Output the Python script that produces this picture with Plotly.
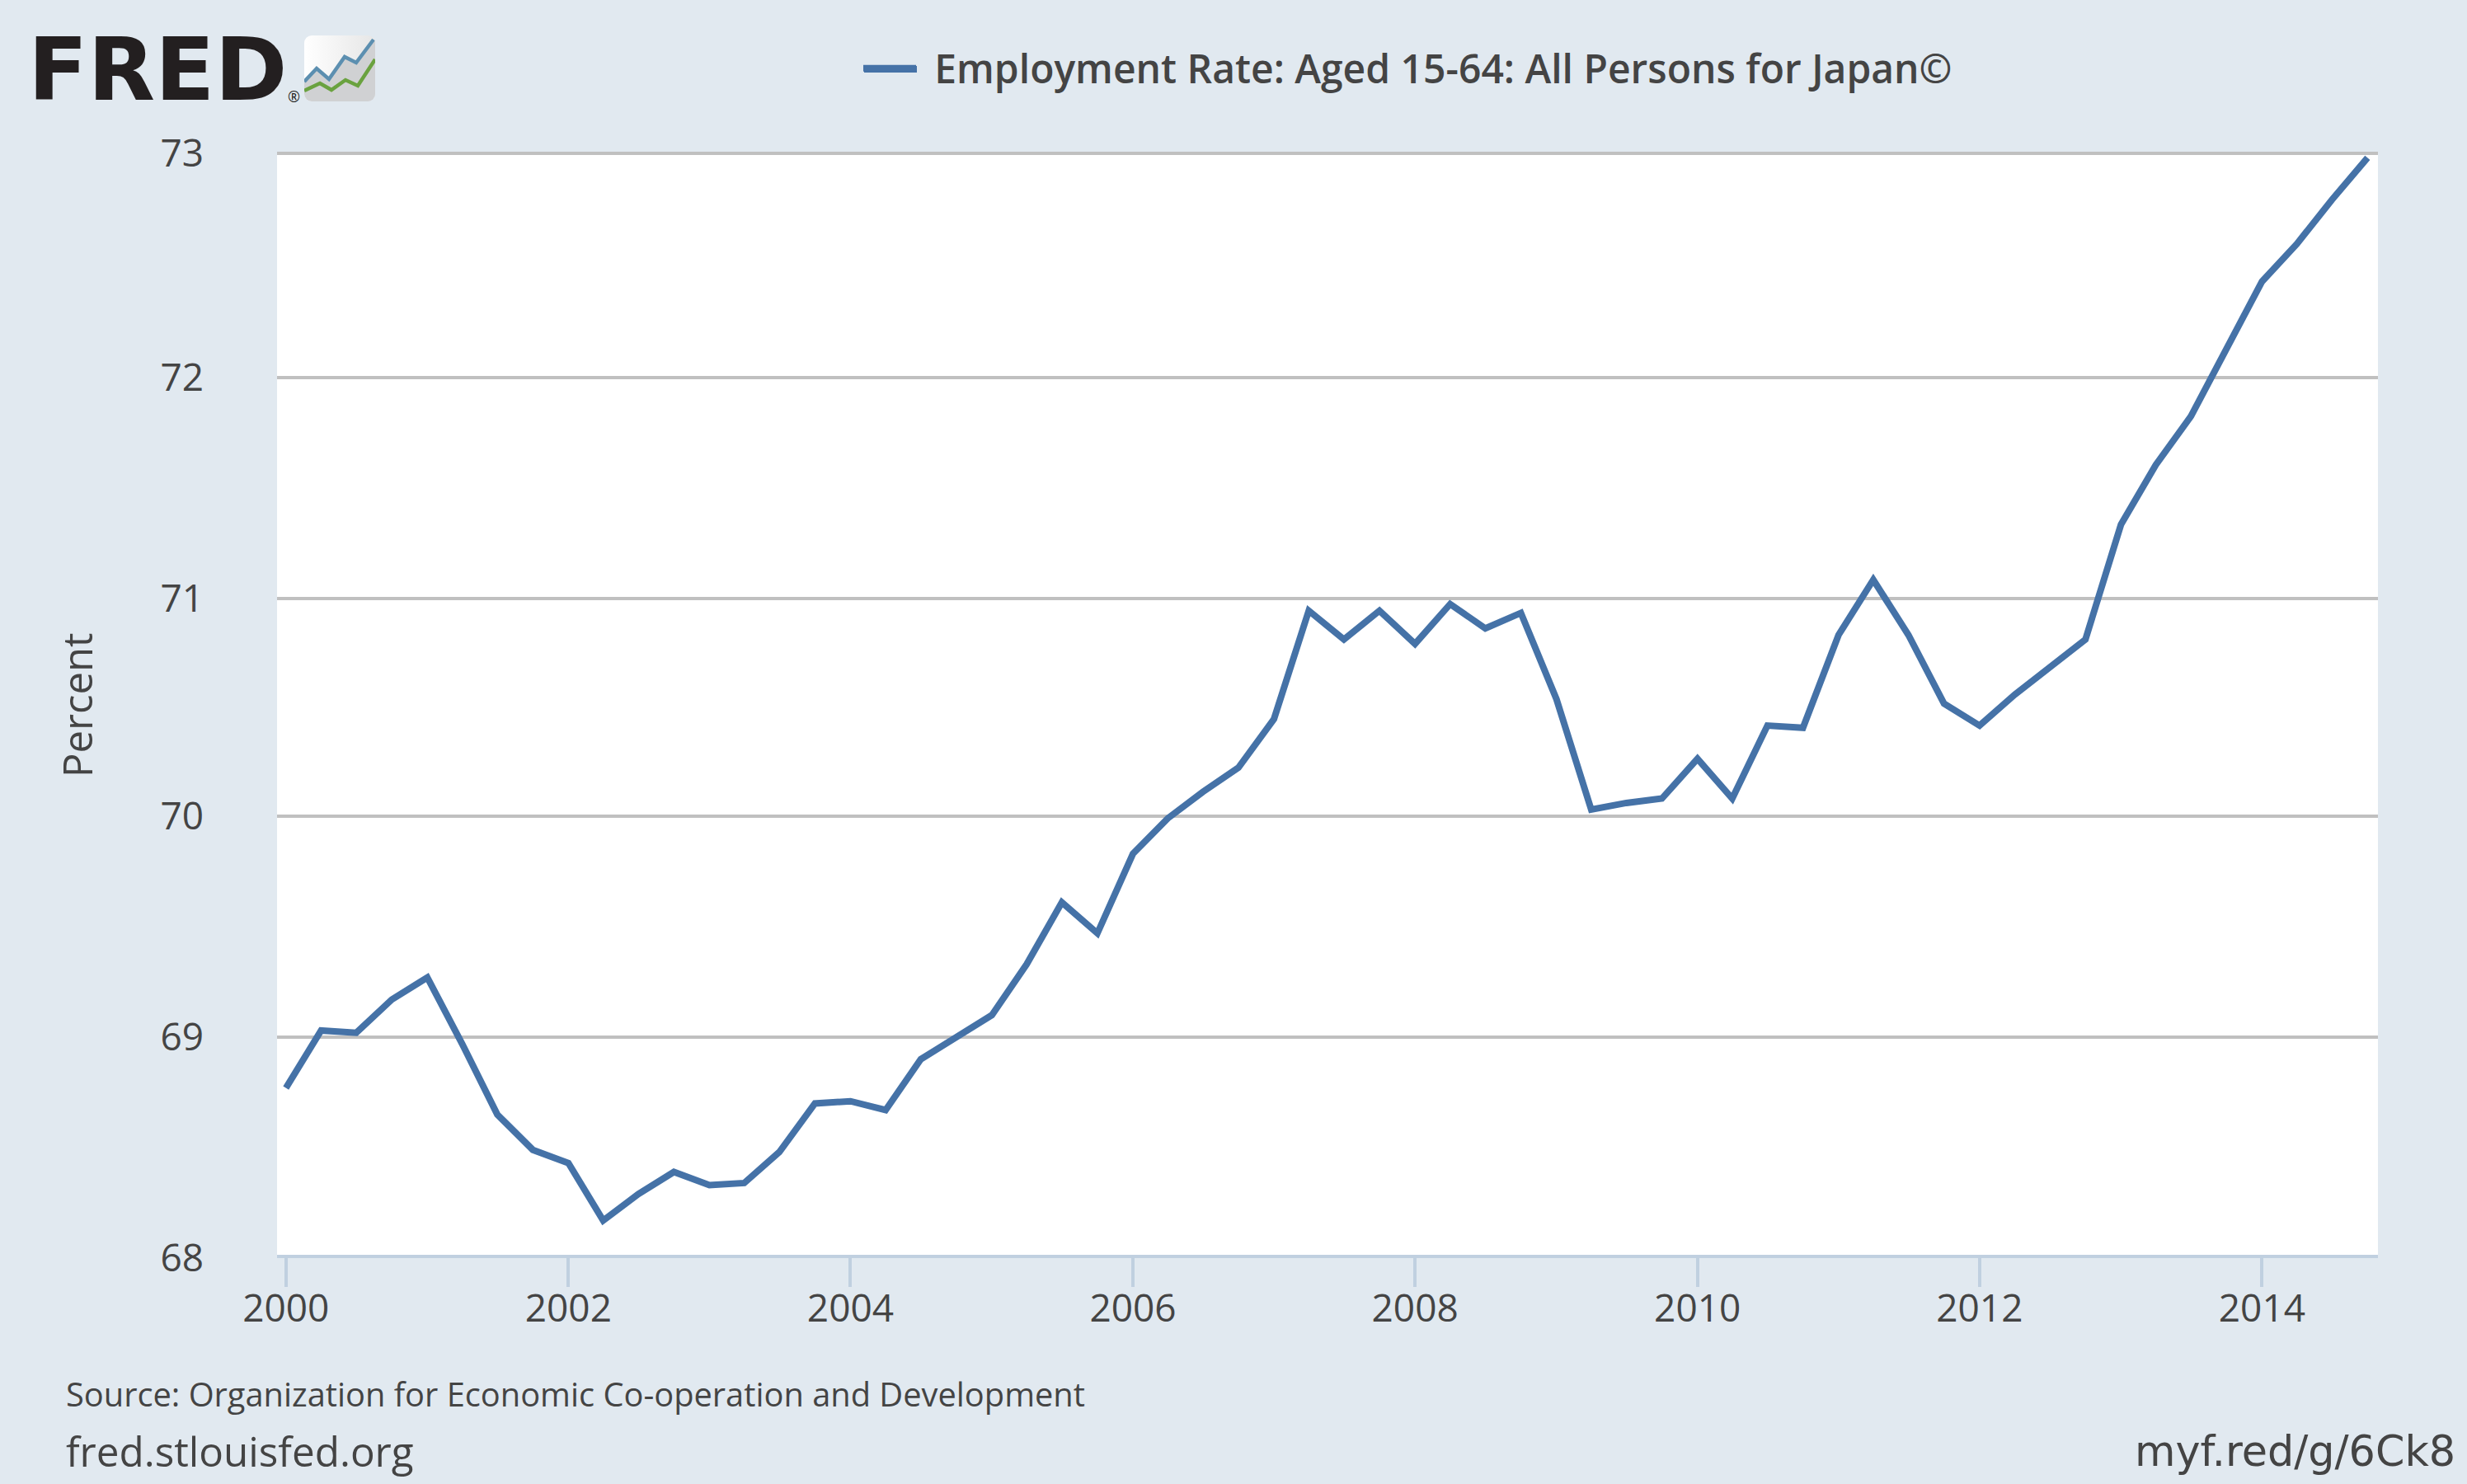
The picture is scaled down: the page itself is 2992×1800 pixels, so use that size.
import base64
import pandas as pd
import plotly.graph_objects as go

W, H = 2992, 1800
L, R, T, B = 336, 2884, 184, 1526

SERIES_NAME = "Employment Rate: Aged 15-64: All Persons for Japan©"
START_QUARTER = "2000-01-01"
VALUES = [
    68.77, 69.03, 69.02, 69.17,
    69.27, 68.97, 68.65, 68.49,
    68.43, 68.17, 68.29, 68.39,
    68.33, 68.34, 68.48, 68.70,
    68.71, 68.67, 68.90, 69.00,
    69.10, 69.33, 69.61, 69.47,
    69.83, 69.99, 70.11, 70.22,
    70.44, 70.93, 70.80, 70.93,
    70.78, 70.96, 70.85, 70.92,
    70.53, 70.03, 70.06, 70.08,
    70.26, 70.08, 70.41, 70.40,
    70.82, 71.07, 70.82, 70.51,
    70.41, 70.55, 70.67, 70.80,
    71.32, 71.59, 71.81, 72.12,
    72.42, 72.59, 72.79, 72.98,
]
DATES = pd.date_range(START_QUARTER, periods=len(VALUES), freq="QS")
X_TICKS = [f"{y}-01-01" for y in range(2000, 2015, 2)]
X_TICK_LABELS = [str(y) for y in range(2000, 2015, 2)]
Y_TICKS = [68, 69, 70, 70.985, 71.985, 73]
Y_TICK_LABELS = ["68", "69", "70", "71", "72", "73"]

BG = "#e1e9f0"
TEXT = "#444444"
FONT = "Open Sans"
LINE = "#4572a7"
UNIT_PX = 268


def px(x):
    return (x - L) / (R - L)


def py(y):
    return (B - y) / (B - T)


ICON_SVG = """<svg xmlns="http://www.w3.org/2000/svg" width="86" height="80" viewBox="0 0 86 80">
<defs><linearGradient id="g" x1="0" x2="1" y1="0" y2="0"><stop offset="0" stop-color="#ffffff"/><stop offset="1" stop-color="#e6e6e6"/></linearGradient>
<clipPath id="c"><rect width="86" height="80" rx="9" ry="9"/></clipPath></defs>
<g clip-path="url(#c)"><rect width="86" height="80" fill="url(#g)"/>
<path d="M0 56 L15 40 L30 53 L49 26 L63 33 L84 5 L86 5 L86 80 L0 80 Z" fill="#d0d1d3"/>
<path d="M0 56 L15 40 L30 53 L49 26 L63 33 L84 5" fill="none" stroke="#5c8fb0" stroke-width="4.5"/>
<path d="M0 67 L19 58 L33 66 L50 54 L65 61 L86 29" fill="none" stroke="#6aa23f" stroke-width="4.5"/></g></svg>"""
ICON_URI = "data:image/svg+xml;base64," + base64.b64encode(ICON_SVG.encode()).decode()

fig = go.Figure(
    go.Scatter(
        x=DATES,
        y=VALUES,
        name="\u00a0\u200a" + SERIES_NAME,
        mode="lines",
        line=dict(color=LINE, width=8),
        cliponaxis=False,
        showlegend=True,
        hoverinfo="x+y",
    )
)


def note(text, x, y, size, xanchor="left", **font):
    fig.add_annotation(
        text=text, xref="paper", yref="paper", x=px(x), y=py(y), xanchor=xanchor,
        yanchor="middle", showarrow=False,
        font=dict(family=font.pop("family", FONT), size=size, color=font.pop("color", TEXT), **font),
    )


note("Source: Organization for Economic Co-operation and Development", 78, 1690, 39.8)
note("fred.stlouisfed.org", 78, 1759, 49.4)
note("myf.red/g/6Ck8", 2980, 1760, 50.8, xanchor="right", family="DejaVu Sans")
fig.add_annotation(
    text="Percent", xref="paper", yref="paper", x=px(93), y=py(855), textangle=-90,
    xanchor="center", yanchor="middle", showarrow=False,
    font=dict(family=FONT, size=49, color=TEXT),
)
note("FRED", 32, 84, 106, family="DejaVu Sans", color="#231f20", weight=700)
note("®", 347, 117, 18, family="Open Sans", color="#231f20")

fig.add_layout_image(
    source=ICON_URI, xref="paper", yref="paper", x=px(369), y=py(43),
    sizex=86 / (R - L), sizey=80 / (B - T), xanchor="left", yanchor="top",
    sizing="stretch", layer="above",
)
# thickens the legend key, whose own stroke plotly caps at 5 px
fig.add_shape(
    type="line", xref="paper", yref="paper", layer="above",
    x0=px(1048), x1=px(1112), y0=py(84), y1=py(84),
    line=dict(color=LINE, width=8),
)

fig.update_layout(
    width=W, height=H, autosize=False,
    margin=dict(l=L, r=W - R, t=T, b=H - B, pad=0),
    paper_bgcolor=BG, plot_bgcolor="#ffffff",
    font=dict(family=FONT, color=TEXT),
    showlegend=True,
    legend=dict(
        x=px(1042), y=py(83), xanchor="left", yanchor="middle",
        orientation="h", bgcolor="rgba(0,0,0,0)", itemwidth=64,
        font=dict(family=FONT, size=48, color=TEXT, weight=600),
    ),
    xaxis=dict(
        type="date",
        range=["1999-12-09", "2014-10-28"],
        anchor="free", position=2 / (B - T),
        tickmode="array", tickvals=X_TICKS, ticktext=X_TICK_LABELS,
        ticks="outside", ticklen=35, tickwidth=4, tickcolor="#c0d0e0",
        ticklabelstandoff=-13,
        showline=True, linecolor="#c0d0e0", linewidth=4,
        showgrid=False, zeroline=False,
        tickfont=dict(family=FONT, size=46, color=TEXT),
    ),
    yaxis=dict(
        range=[68, 73 + 2 / UNIT_PX],
        tickmode="array", tickvals=Y_TICKS, ticktext=Y_TICK_LABELS,
        ticks="", ticklabelstandoff=88,
        showline=False, showgrid=True, gridcolor="#c0c0c0", gridwidth=4,
        zeroline=False,
        tickfont=dict(family=FONT, size=46, color=TEXT),
    ),
)

fig.write_html(
    "out.html",
    config={"displayModeBar": False},
    post_script="document.body.style.margin='0';",
)
